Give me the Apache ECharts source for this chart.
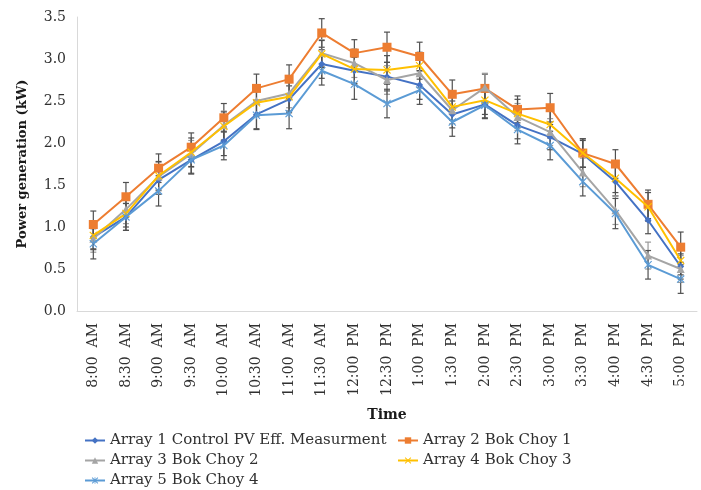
<!DOCTYPE html>
<html><head><meta charset="utf-8">
<script src="https://cdn.jsdelivr.net/npm/echarts@6/dist/echarts.min.js"></script>
<style>html,body{margin:0;padding:0;background:#fff}#c{width:701px;height:490px}</style>
</head><body><div id="c"></div>
<script>
var categories = ['8:00  AM','8:30  AM','9:00  AM','9:30  AM','10:00  AM','10:30  AM','11:00  AM','11:30  AM','12:00  PM','12:30  PM','1:00  PM','1:30  PM','2:00  PM','2:30  PM','3:00  PM','3:30  PM','4:00  PM','4:30  PM','5:00  PM'];
var array1 = [0.88,1.12,1.56,1.80,2.02,2.34,2.52,2.94,2.86,2.79,2.69,2.34,2.46,2.21,2.07,1.87,1.54,1.08,0.53];
var array2 = [1.03,1.36,1.70,1.95,2.30,2.65,2.76,3.31,3.07,3.14,3.03,2.58,2.65,2.40,2.42,1.88,1.75,1.27,0.76];
var array3 = [0.86,1.21,1.60,1.87,2.21,2.50,2.59,3.07,2.95,2.75,2.83,2.39,2.66,2.31,2.13,1.65,1.20,0.66,0.50];
var array4 = [0.90,1.16,1.61,1.89,2.20,2.48,2.55,3.06,2.88,2.87,2.92,2.43,2.51,2.35,2.22,1.88,1.58,1.24,0.60];
var array5 = [0.80,1.12,1.43,1.80,1.97,2.33,2.35,2.86,2.70,2.47,2.63,2.25,2.45,2.16,1.97,1.54,1.16,0.55,0.38];
var err1 = [0.15,0.16,0.17,0.16,0.17,0.17,0.16,0.17,0.16,0.17,0.17,0.16,0.16,0.16,0.15,0.16,0.17,0.16,0.15];
var err2 = [0.16,0.17,0.17,0.17,0.17,0.17,0.17,0.17,0.16,0.18,0.17,0.17,0.17,0.16,0.17,0.17,0.17,0.17,0.18];
var err3 = [0.16,0.17,0.17,0.16,0.17,0.17,0.17,0.16,0.17,0.17,0.17,0.16,0.17,0.16,0.16,0.17,0.17,0.16,0.16];
var err4 = [0.16,0.16,0.17,0.17,0.17,0.16,0.17,0.16,0.17,0.17,0.16,0.16,0.17,0.17,0.16,0.17,0.17,0.17,0.17];
var err5 = [0.18,0.16,0.18,0.17,0.17,0.17,0.18,0.17,0.18,0.17,0.17,0.17,0.16,0.17,0.17,0.17,0.18,0.17,0.17];
var yTicks = [0,0.5,1,1.5,2,2.5,3,3.5];
var names = ['Array 1 Control PV Eff. Measurment','Array 2 Bok Choy 1','Array 3 Bok Choy 2','Array 4 Bok Choy 3','Array 5 Bok Choy 4'];
var colors = ['#4472C4','#ED7D31','#A5A5A5','#FFC000','#5B9BD5'];

var FONT = 'DejaVu Serif';
var TXT = '#303030';
var xSym = 'path://M1,0L5,4L9,0L10,1L6,5L10,9L9,10L5,6L1,10L0,9L4,5L0,1Z';
var starSym = 'path://M1,0L5,4L9,0L10,1L6,5L10,9L9,10L5,6L1,10L0,9L4,5L0,1ZM4.4,0L4.4,10L5.6,10L5.6,0Z';
var symbols = ['diamond','rect','triangle',xSym,starSym];
var symSizes = [7,9,8,8,8];
var values = [array1,array2,array3,array4,array5];
var errs = [err1,err2,err3,err4,err5];
var errColors = ['#505050','#505050','#9a9a9a','#505050','#505050'];

var series = [];
values.forEach(function(v,i){
  series.push({
    type:'custom', name: names[i]+' err', silent:true, z:1,
    data: v.map(function(y,j){return [j,y,errs[i][j]];}),
    renderItem: function(params, api){
      var x = api.value(0), y = api.value(1), e = api.value(2);
      var top = api.coord([x, y+e]), bot = api.coord([x, y-e]);
      var st = {stroke: errColors[i], lineWidth:1.2};
      return {type:'group', children:[
        {type:'line', shape:{x1:top[0],y1:top[1],x2:bot[0],y2:bot[1]}, style:st},
        {type:'line', shape:{x1:top[0]-3,y1:top[1],x2:top[0]+3,y2:top[1]}, style:st},
        {type:'line', shape:{x1:bot[0]-3,y1:bot[1],x2:bot[0]+3,y2:bot[1]}, style:st}
      ]};
    }
  });
});
values.forEach(function(v,i){
  series.push({
    type:'line', name:names[i], data:v, z:2+i,
    symbol:symbols[i], symbolSize:symSizes[i], showSymbol:true,
    lineStyle:{color:colors[i], width:2},
    itemStyle:{color:colors[i]},
    emphasis:{disabled:true}, animation:false
  });
});

var legendText = {fontFamily:FONT, fontSize:15, color:TXT};
var chart = echarts.init(document.getElementById('c'), null, {renderer:'canvas'});
chart.setOption({
  animation:false,
  color: colors,
  grid:{left:77, right:4, top:17, bottom:179, containLabel:false},
  xAxis:{
    type:'category', data:categories, boundaryGap:true,
    name:'Time', nameLocation:'middle', nameGap:97,
    nameTextStyle:{fontFamily:FONT, fontWeight:'bold', fontSize:14, color:'#1a1a1a'},
    axisLine:{show:true, lineStyle:{color:'#D9D9D9', width:1}},
    axisTick:{show:false},
    axisLabel:{rotate:90, interval:0, fontFamily:FONT, fontSize:14, color:TXT, margin:12}
  },
  yAxis:{
    type:'value', min:0, max:3.5, interval:0.5,
    name:'Power generation (kW)', nameLocation:'middle', nameGap:48, nameRotate:90,
    nameTextStyle:{fontFamily:FONT, fontWeight:'bold', fontSize:13, color:'#1a1a1a'},
    axisLine:{show:true, lineStyle:{color:'#D9D9D9', width:1}},
    axisTick:{show:false},
    splitLine:{show:false},
    axisLabel:{fontFamily:FONT, fontSize:14, color:TXT, margin:11,
      formatter:function(v){return yTicks.indexOf(v)>=0 ? v.toFixed(1) : '';}}
  },
  legend:[
    {data:[names[0],names[2],names[4]], orient:'vertical', left:84, top:433, height:60, padding:0, itemGap:5,
     itemWidth:20, itemHeight:8, textStyle:legendText},
    {data:[names[1],names[3]], orient:'vertical', left:397, top:433, height:60, padding:0, itemGap:5,
     itemWidth:20, itemHeight:8, textStyle:legendText}
  ],
  series:series
});
</script></body></html>
